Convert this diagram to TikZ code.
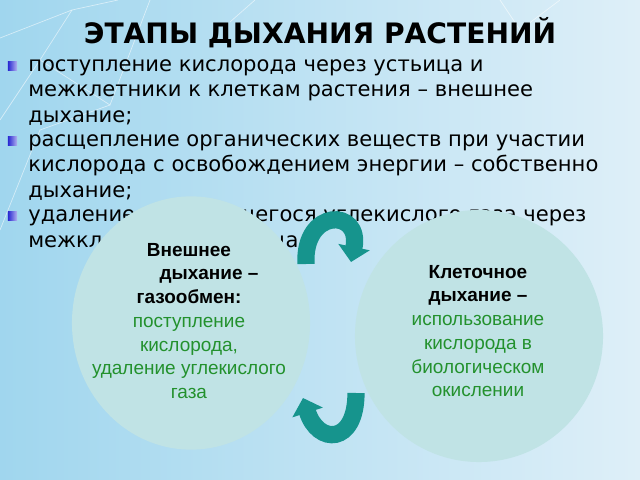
\documentclass[tikz,border=0pt]{standalone}
\usepackage{fontspec}
\setmainfont{DejaVu Sans}
\newfontfamily\circfont{Liberation Sans}
\usetikzlibrary{positioning,arrows.meta,shapes.geometric}
\definecolor{bgLeft}{RGB}{160,214,238}
\definecolor{bgMid}{RGB}{234,245,251}
\definecolor{bgRight}{RGB}{222,239,248}
\definecolor{cellFill}{RGB}{192,227,229}
\definecolor{cycTeal}{RGB}{22,148,141}
\definecolor{txtGreen}{RGB}{35,145,45}
\definecolor{bulBlue}{RGB}{40,40,210}

\begin{document}
\begin{tikzpicture}[x=0.025cm, y=-0.025cm,
  bullettext/.style={anchor=base west, align=left, inner sep=0pt,
                     font=\fontsize{15}{17.8}\selectfont},
  bulletbox/.style={minimum width=0.23cm, minimum height=0.21cm, inner sep=0pt,
                    left color=bulBlue, right color=bulBlue!35!white},
  stagecirc/.style={ellipse, fill=cellFill, inner sep=0pt},
  circtext/.style={align=center, font=\circfont\fontsize{13.5}{16.9}\selectfont},
  cycarr/.style={-{Triangle[width=0.78cm, length=0.38cm]}, line width=0.43cm, cycTeal},
  netline/.style={white, opacity=0.55, line width=0.5pt}
]
\useasboundingbox (0,0) rectangle (640,480);
%% Background
\shade[left color=bgLeft, middle color=bgMid, right color=bgRight] (0,0) rectangle (640,480);
\draw[netline] (0,38) -- (72,10) -- (118,0);
\draw[netline] (0,120) -- (40,60) -- (72,10);
\draw[netline] (40,60) -- (110,105) -- (150,0);
\draw[netline] (0,230) -- (40,130) -- (110,105);
\draw[netline] (230,22) -- (255,0);
\draw[netline] (500,0) -- (520,30) -- (560,0);
%% Title
\node[font=\bfseries\fontsize{20}{24}\selectfont, anchor=base] (title) at (320,44)
  {ЭТАПЫ ДЫХАНИЯ РАСТЕНИЙ};
%% Bullets (anchored at the baseline of their last line)
\node[bulletbox] (sq1) at (12.5,66) {};
\node[bullettext] (b1) at (28,122)
  {поступление кислорода через устьица и\\межклетники к клеткам растения – внешнее\\дыхание;};
\node[bulletbox] (sq2) at (12.5,141) {};
\node[bullettext] (b2) at (28,197)
  {расщепление органических веществ при участии\\кислорода с освобождением энергии – собственно\\дыхание;};
\node[bulletbox] (sq3) at (12.5,216) {};
\node[bullettext] (b3) at (28,247)
  {удаление образующегося углекислого газа через\\межклетники и устьица};
%% Circles
\node[stagecirc, minimum width=5.95cm, minimum height=6.33cm] (ext) at (191,323) {};
\node[stagecirc, minimum width=6.2cm, minimum height=6.3cm] (cell) at (479,336) {};
\node[circtext] (extText) at (189,321)
  {\textbf{Внешнее}\\\hspace*{1cm}\textbf{дыхание –}\\\textbf{газообмен:}\\
   \textcolor{txtGreen}{поступление}\\\textcolor{txtGreen}{кислорода,}\\
   \textcolor{txtGreen}{удаление углекислого}\\\textcolor{txtGreen}{газа}};
\node[circtext] (cellText) at (478,331)
  {\textbf{Клеточное}\\\textbf{дыхание –}\\\textcolor{txtGreen}{использование}\\
   \textcolor{txtGreen}{кислорода в}\\\textcolor{txtGreen}{биологическом}\\
   \textcolor{txtGreen}{окислении}};
%% Cycle arrows
\coordinate (topStart) at (306,264);
\coordinate (topEnd) at (351,262);
\draw[cycarr] (topStart) .. controls (303,208) and (362,208) .. (topEnd);
\coordinate (botStart) at (356,393);
\coordinate (botEnd) at (303,398);
\draw[cycarr] (botStart) .. controls (356,445) and (318,445) .. (botEnd);
\end{tikzpicture}
\end{document}
